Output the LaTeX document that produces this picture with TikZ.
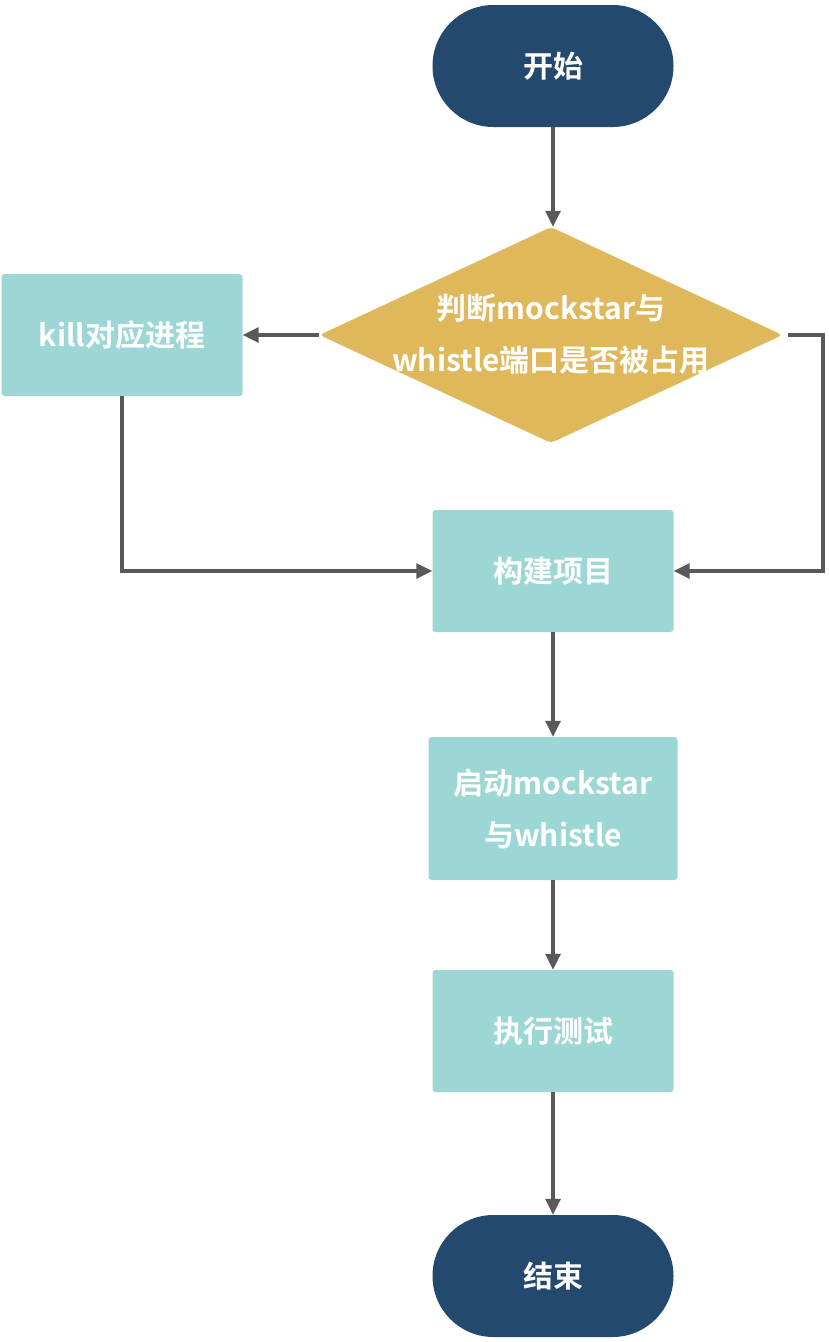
\documentclass[tikz,border=0pt]{standalone}
\usepackage{fontspec}
\setmainfont{Noto Sans CJK SC}[BoldFont={Noto Sans CJK SC Bold}]
\usetikzlibrary{shapes.geometric,arrows.meta}
\definecolor{navy}{HTML}{23496E}
\definecolor{teal}{HTML}{9DD7D5}
\definecolor{gold}{HTML}{DFB85C}
\definecolor{conn}{HTML}{595959}
\tikzset{
  lbl/.style={text=white,font=\bfseries\fontsize{30}{52}\selectfont,align=center},
  term/.style={lbl,fill=navy,minimum width=241pt,minimum height=122pt,rounded corners=60.9pt,inner sep=0pt},
  proc/.style={lbl,fill=teal,minimum width=241pt,minimum height=122pt,rounded corners=3pt,inner sep=0pt},
  dec/.style={diamond,fill=gold,minimum width=463pt,minimum height=216pt,inner sep=0pt,rounded corners=4pt},
  arr/.style={draw=conn,line width=3.2pt,-{Triangle[length=16pt,width=15pt]}},
}
\begin{document}
\begin{tikzpicture}[x=1pt,y=-1pt]
\useasboundingbox (0,0) rectangle (828,1342);
\node[term] (start) at (553,66) {开始};
\node[dec] (d) at (551,335) {};
\node[lbl] (dt) at (551,334) {判断mockstar与\\whistle端口是否被占用};
\node[proc] (kill) at (122,335) {kill对应进程};
\node[proc] (build) at (553,571) {构建项目};
\node[proc,minimum width=249pt,minimum height=143pt] (run) at (553,808.5) {启动mockstar\\与whistle};
\node[proc] (test) at (553,1031) {执行测试};
\node[term] (end) at (553,1276) {结束};
\coordinate (rc) at (823,335);
\coordinate (rb) at (823,571);
\coordinate (kb) at (122,571);
\draw[arr] (start.south) -- (start.south |- d.north);
\draw[arr] (d.west) -- (kill.east);
\draw[arr,shorten <=5pt] (d.east) -- (rc) -- (rb) -- (build.east);
\draw[arr] (kill.south) -- (kb) -- (build.west);
\draw[arr] (build.south) -- (run.north);
\draw[arr] (run.south) -- (test.north);
\draw[arr] (test.south) -- (end.north);
\end{tikzpicture}
\end{document}
